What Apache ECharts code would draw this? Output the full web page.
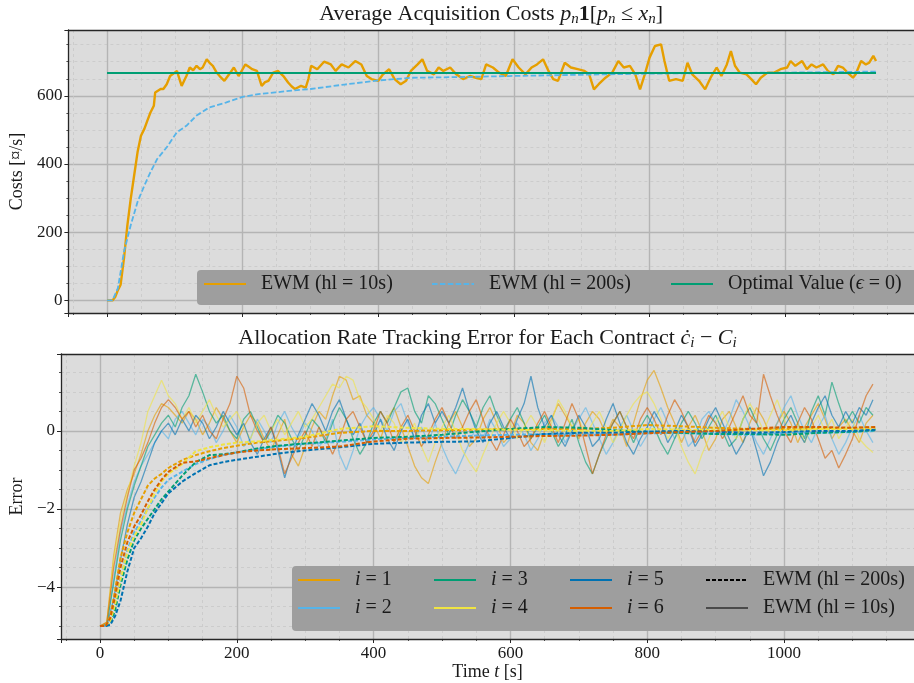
<!DOCTYPE html>
<html>
<head>
<meta charset="utf-8">
<script src="https://cdn.jsdelivr.net/npm/echarts@6.0.0/dist/echarts.min.js"></script>
<style>
  html, body { margin: 0; padding: 0; background: #fff; }
  #chart { width: 914px; height: 683px; }
</style>
</head>
<body>
<div id="chart"></div>
<script>
// ---- top panel: average acquisition costs ----
const costFastTime = [0, 8, 12, 16, 20, 25, 30, 35, 40, 45,
  50, 55, 60, 64, 69, 71, 75, 79, 83, 88,
  93, 98, 103, 110, 117, 122, 127, 132, 137, 141,
  147, 152, 156, 161, 166, 173, 180, 187, 194, 199,
  204, 209, 214, 221, 228, 233, 238, 245, 252, 260,
  267, 272, 277, 282, 286, 293, 297, 301, 310, 320,
  330, 337, 346, 356, 366, 375, 383, 390, 400, 407,
  416, 424, 433, 441, 448, 458, 465, 472, 482, 489,
  496, 506, 515, 525, 535, 544, 552, 559, 569, 578,
  588, 598, 607, 617, 626, 634, 643, 651, 658, 665,
  675, 684, 694, 704, 711, 718, 725, 735, 745, 754,
  762, 771, 779, 786, 793, 800, 808, 817, 822, 829,
  839, 849, 856, 863, 873, 882, 890, 899, 906, 914,
  920, 926, 933, 943, 950, 957, 964, 974, 984, 993,
  1003, 1008, 1015, 1025, 1032, 1039, 1046, 1056, 1063, 1071,
  1078, 1085, 1092, 1100, 1104, 1112, 1119, 1124, 1130, 1134];
const costFast = [0, 0, 10, 30, 46, 124, 221, 299, 367, 435,
  483, 503, 530, 551, 571, 610, 615, 620, 620, 634,
  658, 665, 673, 629, 658, 683, 675, 688, 678, 683,
  707, 695, 688, 670, 658, 644, 663, 683, 658, 675,
  692, 685, 678, 673, 629, 640, 644, 668, 673, 658,
  639, 628, 620, 625, 629, 624, 650, 688, 678, 700,
  692, 673, 692, 683, 702, 692, 658, 649, 644, 663,
  678, 649, 634, 644, 673, 692, 707, 673, 663, 683,
  673, 683, 663, 649, 658, 653, 649, 692, 683, 668,
  658, 707, 683, 663, 683, 692, 707, 673, 649, 644,
  697, 683, 678, 673, 663, 619, 634, 653, 668, 702,
  683, 688, 663, 619, 663, 712, 746, 751, 702, 644,
  649, 644, 697, 663, 644, 619, 653, 683, 658, 692,
  731, 688, 668, 663, 649, 634, 653, 668, 668, 678,
  683, 702, 688, 702, 678, 692, 683, 692, 673, 663,
  688, 683, 668, 653, 663, 702, 692, 697, 717, 702];
const costSlowTime = [0, 8, 16, 25, 35, 45, 55, 64, 74, 88, 103, 117, 132, 151, 175, 200,
  223, 248, 272, 300, 350, 400, 450, 520, 593, 650, 737, 800, 900, 1000, 1134];
const costSlow = [0, 0, 36, 143, 221, 289, 337, 376, 415, 449, 493, 512, 542, 566, 580, 597,
  605, 610, 615, 620, 633, 645, 653, 655, 658, 660, 663, 665, 667, 668, 671];
const optimalTime = [0, 1134];
const optimalCost = [667, 667];

// ---- bottom panel: tracking error, EWM hl = 200s (dashed) ----
const slowTime = [0, 8, 15, 22, 30, 40, 50, 60, 70, 80, 90, 100, 120, 140, 160, 180, 200, 230, 260,
  300, 350, 400, 450, 500, 550, 600, 650, 700, 750, 800, 850, 900, 950, 1000, 1050, 1100, 1134];
const slowI1 = [-5, -5, -4.75, -4.1, -3.25, -2.6, -2.1, -1.75, -1.4, -1.22, -1.1, -0.95, -0.75, -0.62, -0.52, -0.44, -0.38, -0.3, -0.25,
  -0.18, -0.05, 0.0, 0.0, 0.02, 0.03, 0.05, 0.05, 0.05, 0.08, 0.15, 0.12, 0.08, 0.05, 0.05, 0.07, 0.08, 0.1];
const slowI2 = [-5, -5, -4.9, -4.5, -3.8, -3.05, -2.6, -2.3, -1.98, -1.7, -1.45, -1.25, -1.05, -0.85, -0.72, -0.62, -0.55, -0.47, -0.4,
  -0.33, -0.28, -0.22, -0.18, -0.15, -0.12, -0.1, -0.08, -0.1, -0.1, -0.06, -0.05, -0.08, -0.1, -0.05, -0.05, -0.03, 0.0];
const slowI3 = [-5, -5, -4.92, -4.6, -3.95, -3.3, -2.8, -2.5, -2.25, -2.0, -1.75, -1.55, -1.15, -0.8, -0.62, -0.6, -0.55, -0.45, -0.38,
  -0.32, -0.25, -0.18, -0.15, -0.1, -0.02, 0.05, 0.1, 0.08, 0.02, -0.02, -0.05, -0.08, -0.08, -0.1, -0.05, -0.02, 0.02];
const slowI4 = [-5, -5, -4.88, -4.45, -3.8, -3.1, -2.7, -2.4, -1.98, -1.6, -1.3, -1.1, -0.85, -0.52, -0.42, -0.35, -0.3, -0.27, -0.22,
  -0.15, 0.05, 0.12, 0.08, 0.05, 0.05, 0.03, 0.02, 0.0, 0.0, 0.05, 0.03, 0.02, 0.02, 0.02, 0.05, 0.05, 0.05];
const slowI5 = [-5, -5, -4.97, -4.75, -4.35, -3.6, -3.0, -2.75, -2.45, -2.1, -1.85, -1.6, -1.3, -1.08, -0.88, -0.8, -0.74, -0.66, -0.58,
  -0.5, -0.42, -0.33, -0.3, -0.28, -0.27, -0.18, -0.08, -0.05, -0.05, -0.02, 0.0, -0.02, -0.05, -0.03, 0.0, 0.0, 0.03];
const slowI6 = [-5, -5, -4.8, -4.25, -3.5, -2.85, -2.45, -2.15, -1.8, -1.5, -1.25, -1.05, -0.82, -0.78, -0.7, -0.62, -0.55, -0.5, -0.47,
  -0.44, -0.4, -0.27, -0.2, -0.18, -0.17, -0.15, -0.13, -0.12, -0.1, -0.06, -0.03, 0.0, 0.05, 0.1, 0.1, 0.08, 0.1];

// ---- bottom panel: tracking error, EWM hl = 10s (one value every 10 s) ----
const fastStep = 10;
const fastI1 = [-5, -4.9, -3.2, -2.1, -1.5, -1.1, -0.6, 0.0, 0.4, 0.7,
  0.6, 0.4, 0.2, 0.5, 0.3, -0.1, 0.2, 0.6, 0.3, 0.0,
  -0.3, 0.1, 0.4, 0.2, -0.2, -0.5, -0.1, 0.3, -0.6, -0.9,
  -0.4, 0.1, 0.5, 0.3, 0.9, 1.4, 1.3, 0.8, 0.9, 0.4,
  0.2, -0.2, 0.3, 0.6, 0.1, -0.4, -0.9, -1.2, -1.35, -0.8,
  -0.3, 0.2, 0.5, 0.1, -0.4, -0.2, 0.3, 0.6, 0.2, -0.3,
  -0.1, 0.4, 0.2, -0.3, -0.5, 0.0, 0.3, 0.7, 0.4, 0.1,
  -0.2, 0.2, 0.5, 0.3, -0.1, 0.3, 0.1, -0.4, 0.2, 0.8,
  1.3, 1.55, 1.1, 0.6, 0.2, -0.3, 0.1, 0.4, 0.0, -0.5,
  -0.2, 0.3, 0.5, 0.1, -0.3, 0.2, 0.6, 0.3, -0.1, 0.2,
  0.5, 0.2, -0.3, 0.1, 0.4, 0.7, 0.3, -0.2, 0.1, 0.3,
  0.0, -0.3, 0.2, 0.4];
const fastI2 = [-5, -4.95, -3.8, -2.6, -1.9, -1.3, -0.9, -0.6, -0.3, 0.0,
  -0.2, 0.3, 0.5, 0.2, -0.1, 0.3, 0.1, -0.3, 0.0, 0.4,
  0.1, -0.4, -0.2, 0.3, 0.0, -0.3, 0.2, 0.5, 0.1, -0.2,
  0.2, 0.0, -0.4, -0.2, 0.3, -0.6, -1.0, -0.5, 0.1, 0.4,
  0.6, 0.3, 0.0, 0.5, 0.7, 0.2, -0.2, 0.1, -0.3, 0.2,
  -0.4, -0.8, -1.1, -0.7, -0.3, 0.1, -0.2, 0.3, 0.0, -0.4,
  -0.2, 0.2, -0.1, -0.5, -0.2, 0.2, 0.4, 0.1, -0.3, 0.0,
  0.3, 0.6, 0.2, -0.2, -0.6, -0.3, 0.1, 0.4, 0.0, -0.4,
  -0.1, 0.3, 0.6, 0.2, -0.2, 0.1, -0.4, -0.2, 0.3, 0.5,
  0.2, -0.1, 0.3, 0.8, 0.5, 0.1, -0.3, -0.6, -0.2, 0.2,
  0.6, 0.9, 0.4, 0.0, -0.3, 0.1, 0.4, -0.2, -0.6, -0.3,
  0.1, 0.4, 0.0, -0.3];
const fastI3 = [-5, -4.95, -3.9, -2.8, -2.0, -1.4, -0.9, -0.4, -0.1, 0.2,
  0.4, 0.1, 0.6, 0.9, 1.45, 1.0, 0.5, 0.2, 0.4, 0.0,
  -0.2, 0.3, 0.5, 0.1, -0.3, 0.0, 0.4, 0.2, -0.2, -0.5,
  -0.1, 0.3, 0.1, -0.3, 0.2, 0.6, 0.3, -0.2, -0.6, -0.3,
  0.2, 0.5, 0.2, 0.6, 1.0, 1.1, 0.5, 0.2, 0.9, 0.7,
  0.3, -0.1, 0.4, 0.8, 0.5, 0.1, 0.6, 0.9, 0.4, 0.0,
  0.3, 0.6, 0.2, -0.2, 0.1, 0.4, 0.0, -0.4, -0.1, 0.3,
  -0.3, -0.8, -1.1, -0.6, -0.2, 0.2, 0.5, 0.1, -0.3, 0.1,
  0.4, 0.1, -0.3, -0.6, -0.2, 0.2, 0.5, 0.2, -0.2, 0.1,
  0.4, 0.0, -0.4, -0.2, 0.3, 0.6, 0.2, -0.2, -0.5, -0.1,
  0.3, 0.6, 0.2, -0.2, 0.5, 0.9, 0.4, 1.25, 0.7, 0.2,
  0.5, 0.2, 0.6, 0.4];
const fastI4 = [-5, -4.9, -3.3, -2.3, -1.6, -0.9, -0.3, 0.5, 0.9, 1.3,
  0.9, 0.7, 0.3, 0.6, 0.2, 0.5, 0.8, 0.4, 0.1, 0.3,
  0.5, 0.1, -0.2, 0.2, 0.4, 0.0, 0.3, -0.1, 0.2, 0.5,
  0.1, 0.3, 0.6, 0.9, 1.2, 1.1, 1.4, 1.3, 0.8, 0.6,
  0.3, 0.0, 0.4, 0.2, -0.3, -0.1, 0.2, -0.4, -0.8, -0.3,
  0.1, 0.4, 0.0, -0.5, -0.8, -1.05, -0.6, -0.2, 0.2, 0.5,
  0.2, -0.2, 0.1, 0.4, 0.1, -0.3, 0.2, 0.8, 0.5, 0.1,
  0.3, -0.1, 0.2, 0.5, 0.1, -0.3, 0.0, 0.4, 0.7, 0.9,
  1.0, 0.7, 0.3, -0.2, 0.1, -0.4, -0.8, -1.1, -0.6, -0.2,
  0.2, 0.5, 0.1, -0.2, 0.3, 0.7, 0.4, 0.0, 0.4, 0.8,
  0.3, -0.1, 0.2, -0.3, 0.1, 0.4, 0.0, 0.3, -0.2, 0.1,
  0.3, -0.2, -0.4, -0.55];
const fastI5 = [-5, -5, -4.3, -3.3, -2.4, -1.7, -1.3, -0.8, -0.3, 0.0,
  0.2, -0.1, 0.3, 0.0, 0.4, 0.2, -0.2, 0.1, 0.5, 0.2,
  -0.1, 0.2, -0.3, -0.6, -0.2, 0.1, -0.5, -1.2, -0.6, -0.1,
  0.3, 0.7, 0.4, 0.0, 0.5, 0.8, 0.3, -0.1, 0.2, -0.3,
  -0.1, 0.3, -0.2, -0.5, 0.0, 0.3, -0.2, 0.4, 0.7, 0.2,
  0.5, 0.2, 0.6, 1.1, 0.5, 0.0, -0.3, 0.2, 0.5, 0.1,
  -0.2, 0.3, 0.7, 1.4, 0.6, 0.1, 0.4, -0.1, -0.4, 0.0,
  0.4, 0.1, -0.4, -0.2, 0.3, 0.7, 0.2, -0.3, -0.6, -0.2,
  0.1, 0.5, 0.2, -0.3, 0.0, 0.4, 0.1, -0.4, -0.1, 0.3,
  0.6, 0.2, -0.2, -0.6, -0.3, 0.1, -0.5, -1.15, -0.8, -0.3,
  0.1, 0.4, 0.0, -0.3, 0.2, 0.6, 0.9, 0.4, 0.1, 0.5,
  0.2, 0.6, 0.4, 0.8];
const fastI6 = [-5, -4.9, -3.5, -2.5, -1.7, -1.0, -0.7, -0.3, 0.2, 0.6,
  0.8, 0.6, 0.3, 0.5, 0.1, 0.4, 0.0, -0.2, 0.3, 0.7,
  1.4, 1.1, 0.4, 0.0, -0.3, 0.1, -0.4, -1.1, -0.7, -0.3,
  0.0, -0.4, 0.1, -0.2, -0.6, -0.2, 0.3, 0.5, 0.1, -0.3,
  0.0, 0.5, 0.2, -0.3, 0.1, 0.4, 0.0, -0.4, -0.1, 0.3,
  0.6, 0.2, -0.2, 0.1, 0.5, 0.8, 0.3, -0.2, -0.5, -0.1,
  0.3, 0.0, -0.4, -0.2, 0.2, 0.5, 0.1, -0.3, 0.2, 0.7,
  0.3, -0.4, -1.1, -0.6, -0.1, 0.2, 0.5, 0.1, -0.2, 0.3,
  0.6, 0.3, -0.1, 0.4, 0.8, 0.5, 0.1, -0.3, 0.0, 0.4,
  0.2, -0.2, 0.1, 0.5, 0.9, 0.4, 0.2, 1.45, 0.9, 0.4,
  0.0, -0.3, 0.2, 0.6, 0.3, -0.2, -0.7, -0.5, -0.95, -0.6,
  -0.2, 0.4, 0.9, 1.2];

const contractNames = ['i = 1', 'i = 2', 'i = 3', 'i = 4', 'i = 5', 'i = 6'];
const contractColors = ['#E69F00', '#56B4E9', '#009E73', '#F0E442', '#0072B2', '#D55E00'];
const slowErr = [slowI1, slowI2, slowI3, slowI4, slowI5, slowI6];
const fastErr = [fastI1, fastI2, fastI3, fastI4, fastI5, fastI6];
const fastTime = fastI1.map((_, k) => k * fastStep);

// ---- look ----
const FONT = 'Liberation Serif';
const INK = '#1a1a1a';
const X_MIN = -57, X_MAX = 1190;

const pairs = (xs, ys) => xs.map((x, k) => [x, ys[k]]);
const minus = v => (v < 0 ? '\u2212' + Math.abs(v) : String(v));

const gridLines = {
  splitLine: { show: true, showMinLine: false, showMaxLine: false, lineStyle: { color: '#b4b4b4', width: 1.4 } },
  minorSplitLine: { show: true, lineStyle: { color: '#c8c8c8', width: 0.8, type: [3, 3] } },
  axisTick: { show: true, inside: false, length: 4, lineStyle: { color: '#262626', width: 1 } },
  minorTick: { show: true, splitNumber: 4, length: 2, lineStyle: { color: '#262626', width: 0.8 } },
  axisLine: { show: true, onZero: false, lineStyle: { color: '#262626', width: 1.3 } }
};

function bottomX(gridIndex, withLabels) {
  return Object.assign({
    type: 'value', gridIndex, position: 'bottom', min: X_MIN, max: X_MAX, splitNumber: 6,
    axisLabel: { show: withLabels, showMinLabel: false, showMaxLabel: false, margin: 6,
      fontFamily: FONT, fontSize: 17, color: INK, formatter: minus },
    name: withLabels ? 'Time {it|t} [s]' : '', nameLocation: 'middle', nameGap: 22,
    nameTextStyle: { fontFamily: FONT, fontSize: 18, color: INK,
      rich: { it: { fontFamily: FONT, fontSize: 18, fontStyle: 'italic', color: INK } } }
  }, gridLines);
}

const titleRich = {
  it: { fontFamily: FONT, fontSize: 22, fontStyle: 'italic', color: INK, lineHeight: 26 },
  sub: { fontFamily: FONT, fontSize: 15, fontStyle: 'italic', color: INK, lineHeight: 14, verticalAlign: 'bottom' },
  bf: { fontFamily: FONT, fontSize: 22, fontWeight: 'bold', color: INK, lineHeight: 26 }
};

function topX(gridIndex, title) {
  return {
    type: 'value', gridIndex, position: 'top', min: X_MIN, max: X_MAX,
    axisLine: { show: true, onZero: false, lineStyle: { color: '#262626', width: 1.3 } },
    axisTick: { show: false }, axisLabel: { show: false }, splitLine: { show: false },
    name: title, nameLocation: 'middle', nameGap: 3,
    nameTextStyle: { fontFamily: FONT, fontSize: 22, color: INK, lineHeight: 26, rich: titleRich }
  };
}

function leftY(gridIndex, min, max, name) {
  return Object.assign({
    type: 'value', gridIndex, min, max, splitNumber: 4,
    axisLabel: { showMinLabel: false, showMaxLabel: false, margin: 6,
      fontFamily: FONT, fontSize: 17, color: INK, formatter: minus },
    name, nameLocation: 'middle', nameGap: 31,
    nameTextStyle: { fontFamily: FONT, fontSize: 18, color: INK }
  }, gridLines);
}

function line(name, xIdx, yIdx, data, style, z) {
  return { name, type: 'line', xAxisIndex: xIdx, yAxisIndex: yIdx, data,
    symbol: 'none', showSymbol: false, lineStyle: style, itemStyle: { color: style.color },
    z: z || 2, silent: true };
}

const series = [
  line('EWM (hl = 10s)', 0, 0, pairs(costFastTime, costFast), { color: '#E69F00', width: 2.4 }),
  line('EWM (hl = 200s)', 0, 0, pairs(costSlowTime, costSlow), { color: '#56B4E9', width: 1.8, type: [5.5, 2.4] }),
  line('Optimal Value (\u03f5 = 0)', 0, 0, pairs(optimalTime, optimalCost), { color: '#009E73', width: 2 })
];
fastErr.forEach((vals, k) => series.push(
  line('fast ' + contractNames[k], 2, 1, pairs(fastTime, vals),
    { color: contractColors[k], width: 1.3, opacity: 0.6 })));
slowErr.forEach((vals, k) => series.push(
  line('slow ' + contractNames[k], 2, 1, pairs(slowTime, vals),
    { color: contractColors[k], width: 2, type: [4, 2] })));
// legend-only entries
contractNames.forEach((n, k) => series.push(line(n, 2, 1, [], { color: contractColors[k], width: 2 })));
series.push(line('ewmSlow', 2, 1, [], { color: '#000', width: 2, type: [4, 2] }));
series.push(line('ewmFast', 2, 1, [], { color: '#4a4a4a', width: 1.6 }));

const legendText = {
  'ewmSlow': 'EWM (hl = 200s)',
  'ewmFast': 'EWM (hl = 10s)',
  'Optimal Value (\u03f5 = 0)': 'Optimal Value ({it|\u03f5} = 0)'
};
contractNames.forEach(n => { legendText[n] = '{it|i}' + n.slice(1); });

function legendItem(name, left, top) {
  return {
    data: [name], left, top, padding: 0, itemWidth: 42, itemHeight: 20, selectedMode: false, z: 5,
    itemStyle: { opacity: 0, borderWidth: 0 },
    lineStyle: { width: 2 },
    formatter: n => legendText[n] || n,
    textStyle: { fontFamily: FONT, fontSize: 20, color: INK, padding: [0, 0, 0, 10],
      rich: { it: { fontFamily: FONT, fontSize: 20, fontStyle: 'italic', color: INK } } }
  };
}

const legends = [
  legendItem('EWM (hl = 10s)', 203, 274),
  legendItem('EWM (hl = 200s)', 431, 274),
  legendItem('Optimal Value (\u03f5 = 0)', 670, 274),
  legendItem('i = 1', 297, 570), legendItem('i = 2', 297, 598),
  legendItem('i = 3', 433, 570), legendItem('i = 4', 433, 598),
  legendItem('i = 5', 569, 570), legendItem('i = 6', 569, 598),
  legendItem('ewmSlow', 705, 570), legendItem('ewmFast', 705, 598)
];

const chart = echarts.init(document.getElementById('chart'), null, { renderer: 'canvas' });
chart.setOption({
  animation: false,
  backgroundColor: '#ffffff',
  grid: [
    { left: 61, top: 29, width: 861, height: 284, show: true, backgroundColor: '#dcdcdc', borderWidth: 0 },
    { left: 61, top: 354, width: 861, height: 285, show: true, backgroundColor: '#dcdcdc', borderWidth: 0 }
  ],
  xAxis: [
    bottomX(0, false),
    topX(0, 'Average Acquisition Costs {it|p}{sub|n}{bf|1}[{it|p}{sub|n} \u2264 {it|x}{sub|n}]'),
    bottomX(1, true),
    topX(1, 'Allocation Rate Tracking Error for Each Contract {it|\u010b}{sub|i} \u2212 {it|C}{sub|i}')
  ],
  yAxis: [
    leftY(0, -37, 793, 'Costs [\u00a4/s]'),
    leftY(1, -5.33, 1.97, 'Error')
  ],
  legend: legends,
  graphic: [
    { type: 'rect', z: 3, shape: { x: 197, y: 270, width: 725, height: 35, r: 4 }, style: { fill: '#9e9e9e' } },
    { type: 'rect', z: 3, shape: { x: 292, y: 566, width: 630, height: 65, r: 4 }, style: { fill: '#9e9e9e' } }
  ],
  series
});
</script>
</body>
</html>
